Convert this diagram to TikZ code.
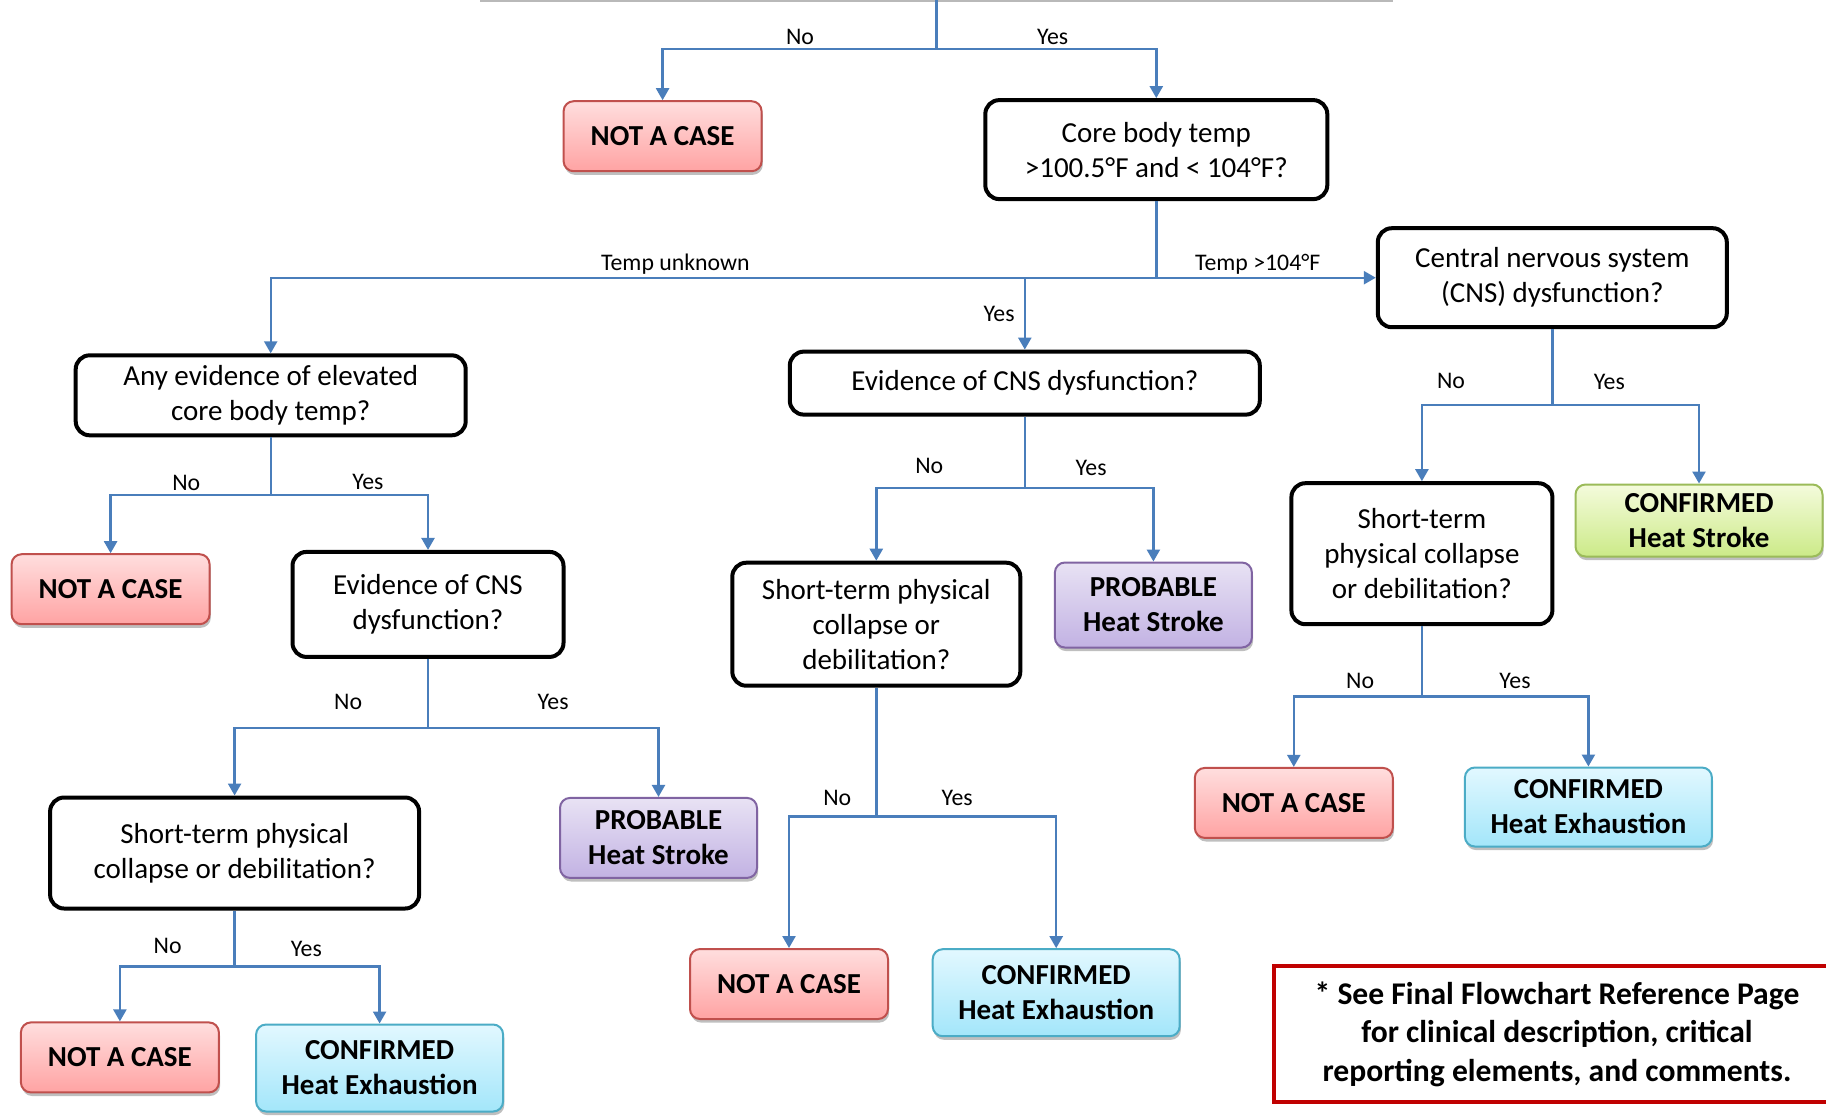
\documentclass[tikz,border=0pt]{standalone}
\usepackage{fontspec}
\setmainfont{Carlito}
\usetikzlibrary{arrows.meta,shadows}
\definecolor{conn}{HTML}{4A7EBB}
\definecolor{nacT}{HTML}{FFDEDE}
\definecolor{nacB}{HTML}{FFA3A3}
\definecolor{nacD}{HTML}{C0504D}
\definecolor{heT}{HTML}{E2F8FF}
\definecolor{heB}{HTML}{A3E6FA}
\definecolor{heD}{HTML}{4BACC6}
\definecolor{prT}{HTML}{E8E2F4}
\definecolor{prB}{HTML}{C2B2E3}
\definecolor{prD}{HTML}{8064A2}
\definecolor{hsT}{HTML}{F4FBDC}
\definecolor{hsB}{HTML}{CCEA88}
\definecolor{hsD}{HTML}{9BBB59}
\definecolor{noteD}{HTML}{C00000}
\tikzset{
  q/.style={draw, line width=2pt, rounded corners=7pt, align=center, inner sep=0pt,
    font=\fontsize{14.5}{17.5}\selectfont, fill=white},
  res/.style={rounded corners=5pt, line width=1pt, align=center, inner sep=0pt,
    font=\fontsize{14.5}{17.5}\selectfont\bfseries,
    drop shadow={shadow xshift=0.6pt, shadow yshift=-1.8pt, opacity=0.25, fill=black}},
  nac/.style={res, draw=nacD, top color=nacT, bottom color=nacB, minimum width=99pt, minimum height=35pt},
  he/.style={res, draw=heD, top color=heT, bottom color=heB, minimum width=123.5pt},
  prob/.style={res, draw=prD, top color=prT, bottom color=prB, minimum width=98.5pt},
  hs/.style={res, draw=hsD, top color=hsT, bottom color=hsB, minimum width=123.5pt},
  ln/.style={draw=conn, line width=1.2pt},
  arr/.style={ln, -{Triangle[width=6.5pt,length=6pt]}},
  lab/.style={font=\fontsize{11.9}{14}\selectfont, inner sep=0pt},
}
\begin{document}
\begin{tikzpicture}[x=0.5pt,y=-0.5pt]
\useasboundingbox (0,0) rectangle (1826,1116);
\clip (0,0) rectangle (1826,1116);
\fill[white] (0,0) rectangle (1826,1116);

\draw[gray!55, line width=1pt] (480,1) -- (1393,1);

% nodes
\node[nac] (nac1) at (662.6,136.2) {NOT A CASE};
\node[q, minimum width=171pt, minimum height=49.5pt] (core) at (1156.3,149.6) {Core body temp\\>100.5°F and < 104°F?};
\node[q, minimum width=174.5pt, minimum height=49.5pt] (cns) at (1552.3,277.7) {Central nervous system\\(CNS) dysfunction?};
\node[q, minimum width=235pt, minimum height=31.5pt] (evm) at (1024.8,383.1) {Evidence of CNS dysfunction?};
\node[q, minimum width=195pt, minimum height=40pt] (any) at (270.7,395.3) {Any evidence of elevated\\core body temp?};
\node[q, minimum width=130.5pt, minimum height=70.5pt] (str) at (1421.9,553.7) {Short-term\\physical collapse\\or debilitation?};
\node[hs, minimum height=36pt] (hs) at (1699,520.5) {CONFIRMED\\Heat Stroke};
\node[nac] (nac2) at (1293.8,802.9) {NOT A CASE};
\node[he, minimum height=39.5pt] (he1) at (1588.4,807) {CONFIRMED\\Heat Exhaustion};
\node[q, minimum width=144pt, minimum height=61.5pt] (stm) at (876.3,624.2) {Short-term physical\\collapse or\\debilitation?};
\node[prob, minimum height=42.5pt] (pr1) at (1153.4,605) {PROBABLE\\Heat Stroke};
\node[nac] (nac3) at (789,984) {NOT A CASE};
\node[he, minimum height=43.5pt] (he2) at (1056.2,992.7) {CONFIRMED\\Heat Exhaustion};
\node[nac] (nac4) at (110.6,589.2) {NOT A CASE};
\node[q, minimum width=135.5pt, minimum height=52.5pt] (evl) at (428,604.4) {Evidence of CNS\\dysfunction?};
\node[q, minimum width=184.5pt, minimum height=55.5pt] (stl) at (234.6,853) {Short-term physical\\collapse or debilitation?};
\node[prob, minimum height=40pt] (pr2) at (658.5,837.9) {PROBABLE\\Heat Stroke};
\node[nac] (nac5) at (119.9,1057.4) {NOT A CASE};
\node[he, minimum height=43.5pt] (he3) at (379.6,1068) {CONFIRMED\\Heat Exhaustion};

\node[draw=noteD, line width=1.6pt, minimum width=283pt, minimum height=68pt, inner sep=0pt] (note) at (1557,1034) {};
\node[align=center, inner sep=0pt, font=\fontsize{15.8}{19.3}\selectfont\bfseries] (notetext) at (1557,1034)
  {* See Final Flowchart Reference Page\\for clinical description, critical\\reporting elements, and comments.};

% junctions
\coordinate (topin) at (936.3,0);
\coordinate (j0) at (936.3,48.9);
\coordinate (j1) at (core.south |- cns.west);
\coordinate (jc) at (1552.3,405.2);
\coordinate (js) at (1421.9,696.4);
\coordinate (je) at (1024.8,487.9);
\coordinate (jm) at (876.3,816.3);
\coordinate (ja) at (270.7,494.9);
\coordinate (jl) at (428,727.8);
\coordinate (jt) at (234.6,966.5);

% connectors
\draw[ln] (topin) -- (j0);
\draw[arr] (j0) -| (nac1.north);
\draw[arr] (j0) -| (core.north);

\draw[ln] (core.south) -- (j1);
\draw[arr] (j1) -- (cns.west);
\draw[arr] (j1) -| (any.north);
\draw[arr] (evm.north |- j1) -- (evm.north);

\draw[ln] (cns.south) -- (jc);
\draw[arr] (jc) -| (str.north);
\draw[arr] (jc) -| (hs.north);

\draw[ln] (str.south) -- (js);
\draw[arr] (js) -| (nac2.north);
\draw[arr] (js) -| (he1.north);

\draw[ln] (evm.south) -- (je);
\draw[arr] (je) -| (stm.north);
\draw[arr] (je) -| (pr1.north);

\draw[ln] (stm.south) -- (jm);
\draw[arr] (jm) -| (nac3.north);
\draw[arr] (jm) -| (he2.north);

\draw[ln] (any.south) -- (ja);
\draw[arr] (ja) -| (nac4.north);
\draw[arr] (ja) -| (evl.north);

\draw[ln] (evl.south) -- (jl);
\draw[arr] (jl) -| (stl.north);
\draw[arr] (jl) -| (pr2.north);

\draw[ln] (stl.south) -- (jt);
\draw[arr] (jt) -| (nac5.north);
\draw[arr] (jt) -| (he3.north);

% labels
\node[lab] (l1) at (800,37) {No};
\node[lab] (l2) at (1052.7,37) {Yes};
\node[lab] (l3) at (675.4,264.3) {Temp unknown};
\node[lab] (l4) at (1257.7,264.3) {Temp >104°F};
\node[lab] (l5) at (999.1,314.4) {Yes};
\node[lab] (l6) at (1451,380.8) {No};
\node[lab] (l7) at (1609.3,382) {Yes};
\node[lab] (l8) at (1360.1,681.2) {No};
\node[lab] (l9) at (1515,681.2) {Yes};
\node[lab] (l10) at (929.3,465.8) {No};
\node[lab] (l11) at (1091.1,468.1) {Yes};
\node[lab] (l12) at (837.3,797.7) {No};
\node[lab] (l13) at (957.2,797.7) {Yes};
\node[lab] (l14) at (186.3,483.3) {No};
\node[lab] (l15) at (368,482.1) {Yes};
\node[lab] (l16) at (348.2,702.2) {No};
\node[lab] (l17) at (553.1,702.2) {Yes};
\node[lab] (l18) at (167.7,945.6) {No};
\node[lab] (l19) at (306.3,949) {Yes};
\end{tikzpicture}
\end{document}
